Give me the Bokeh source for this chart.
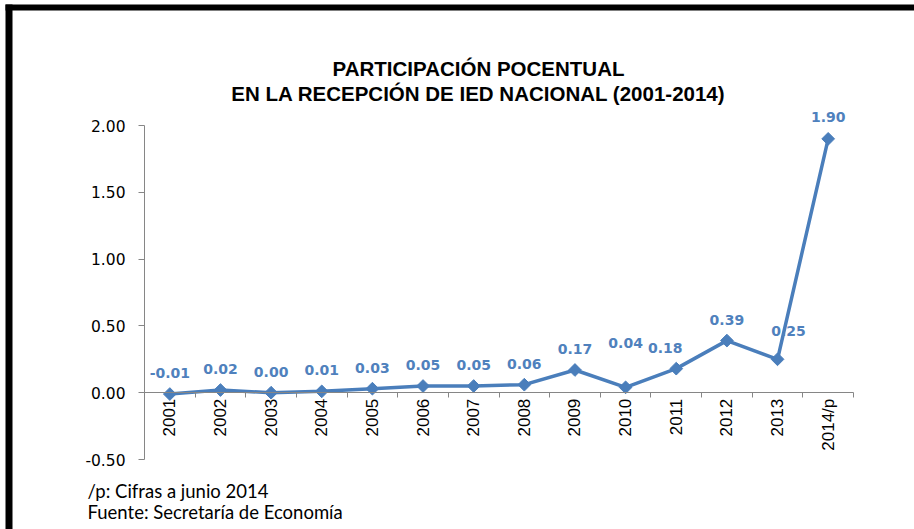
import math
from bokeh.plotting import figure
from bokeh.models import (Range1d, FixedTicker, LinearAxis, LabelSet, Label,
                          ColumnDataSource, BoxAnnotation, NumeralTickFormatter)
from bokeh.core.properties import value
from bokeh.embed import file_html
from bokeh.resources import INLINE

# ---- data ----
years = ["2001", "2002", "2003", "2004", "2005", "2006", "2007",
         "2008", "2009", "2010", "2011", "2012", "2013", "2014/p"]
shares = [-0.01, 0.02, 0.00, 0.01, 0.03, 0.05, 0.05,
          0.06, 0.17, 0.04, 0.18, 0.39, 0.25, 1.90]
y_ticks = [-0.5, 0.0, 0.5, 1.0, 1.5, 2.0]
title_lines = ["PARTICIPACIÓN POCENTUAL",
               "EN LA RECEPCIÓN DE IED NACIONAL (2001-2014)"]
notes = ["/p: Cifras a junio 2014", "Fuente: Secretaría de Economía"]

# label placement tweaks (screen px)
label_dx = [0, 0, 0, 0, 0, 0, 0, 0, 0, 0, -11, 0, 11, 0]
label_dy = [21, 21, 21, 21, 21, 21, 21, 21, 21, 44, 21, 21, 28, 22]

BLUE = "#4A7EBB"
LABEL_BLUE = "#4F81BD"
GREY = "#868686"

# ---- layout (canvas pixels) ----
W, H = 914, 529
PL, PR, PT, PB = 144, 853, 125, 459   # plot area edges

n = len(years)
xs = [i + 0.5 for i in range(n)]
ylo, yhi = y_ticks[0], y_ticks[-1]
kx = (PR - PL) / n
ky = (PB - PT) / (yhi - ylo)
x_range = Range1d(0 - PL / kx, n + (W - PR) / kx)
y_range = Range1d(ylo - (H - PB) / ky, yhi + PT / ky)

p = figure(width=W, height=H, output_backend="svg", toolbar_location=None,
           x_range=x_range, y_range=y_range,
           min_border=0, min_border_left=0, min_border_right=0,
           min_border_top=0, min_border_bottom=0)
p.outline_line_color = None
p.xgrid.visible = False
p.ygrid.visible = False
p.background_fill_color = "white"
p.border_fill_color = "white"

# x axis with category labels, at y = 0
xa = p.xaxis[0]
xa.ticker = FixedTicker(ticks=xs)
xa.major_label_overrides = {xv: yr for xv, yr in zip(xs, years)}
xa.fixed_location = 0
xa.bounds = (0, n)
xa.major_tick_line_color = None
xa.major_tick_in = 0
xa.major_tick_out = 0
xa.minor_tick_line_color = None
xa.axis_line_color = GREY
xa.axis_line_width = 1
xa.major_label_orientation = math.pi / 2
xa.major_label_standoff = 6
xa.major_label_text_font = "Liberation Sans"
xa.major_label_text_font_size = "17px"
xa.major_label_text_color = "black"

# tick marks between categories
ta = LinearAxis(ticker=FixedTicker(ticks=list(range(n + 1))))
ta.fixed_location = 0
ta.bounds = (0, n)
ta.axis_line_color = None
ta.major_tick_line_color = GREY
ta.major_tick_in = 0
ta.major_tick_out = 5
ta.minor_tick_line_color = None
ta.major_label_text_color = None
ta.major_label_text_font_size = "1px"
ta.major_label_standoff = 0
p.add_layout(ta, "below")

# y axis
ya = p.yaxis[0]
ya.ticker = FixedTicker(ticks=y_ticks)
ya.formatter = NumeralTickFormatter(format="0.00")
ya.fixed_location = 0
ya.bounds = (ylo, yhi)
ya.axis_line_color = GREY
ya.major_tick_line_color = GREY
ya.major_tick_out = 6
ya.major_tick_in = 0
ya.minor_tick_line_color = None
ya.major_label_standoff = 13
ya.major_label_text_font = "DejaVu Sans"
ya.major_label_text_font_size = "15.5px"
ya.major_label_text_color = "black"

# series
p.line(xs, shares, line_color=BLUE, line_width=3.5)
p.scatter(xs, shares, marker="square", size=9, angle=math.pi / 4,
          fill_color=BLUE, line_color=BLUE)

src = ColumnDataSource(dict(x=xs, y=shares, t=[f"{v:.2f}" for v in shares],
                            dx=label_dx, dy=label_dy))
p.add_layout(LabelSet(x="x", y="y", text="t", x_offset="dx", y_offset="dy",
                      source=src, text_align="center", text_baseline="middle",
                      text_font=value("DejaVu Sans"), text_font_style="bold",
                      text_font_size="14px", text_color=LABEL_BLUE))

# title lines
for txt, yy in zip(title_lines, [68, 93]):
    p.add_layout(Label(x=478, y=yy, x_units="canvas", y_units="canvas", text=txt,
                       text_align="center", text_baseline="middle",
                       text_font="Liberation Sans", text_font_style="bold",
                       text_font_size="20.5px", text_color="black"))

# footnotes
for txt, yy in zip(notes, [490, 511]):
    p.add_layout(Label(x=87, y=yy, x_units="canvas", y_units="canvas", text=txt,
                       text_align="left", text_baseline="middle",
                       text_font="Lato", text_font_size="18.5px", text_color="black"))

# black frame bands (top and left)
p.add_layout(BoxAnnotation(left=5, right=W, top=4, bottom=10,
                           left_units="canvas", right_units="canvas",
                           top_units="canvas", bottom_units="canvas",
                           fill_color="black", fill_alpha=1, line_color=None))
p.add_layout(BoxAnnotation(left=5, right=12, top=4, bottom=H,
                           left_units="canvas", right_units="canvas",
                           top_units="canvas", bottom_units="canvas",
                           fill_color="black", fill_alpha=1, line_color=None))

open("out.html", "w").write(file_html(p, INLINE))
